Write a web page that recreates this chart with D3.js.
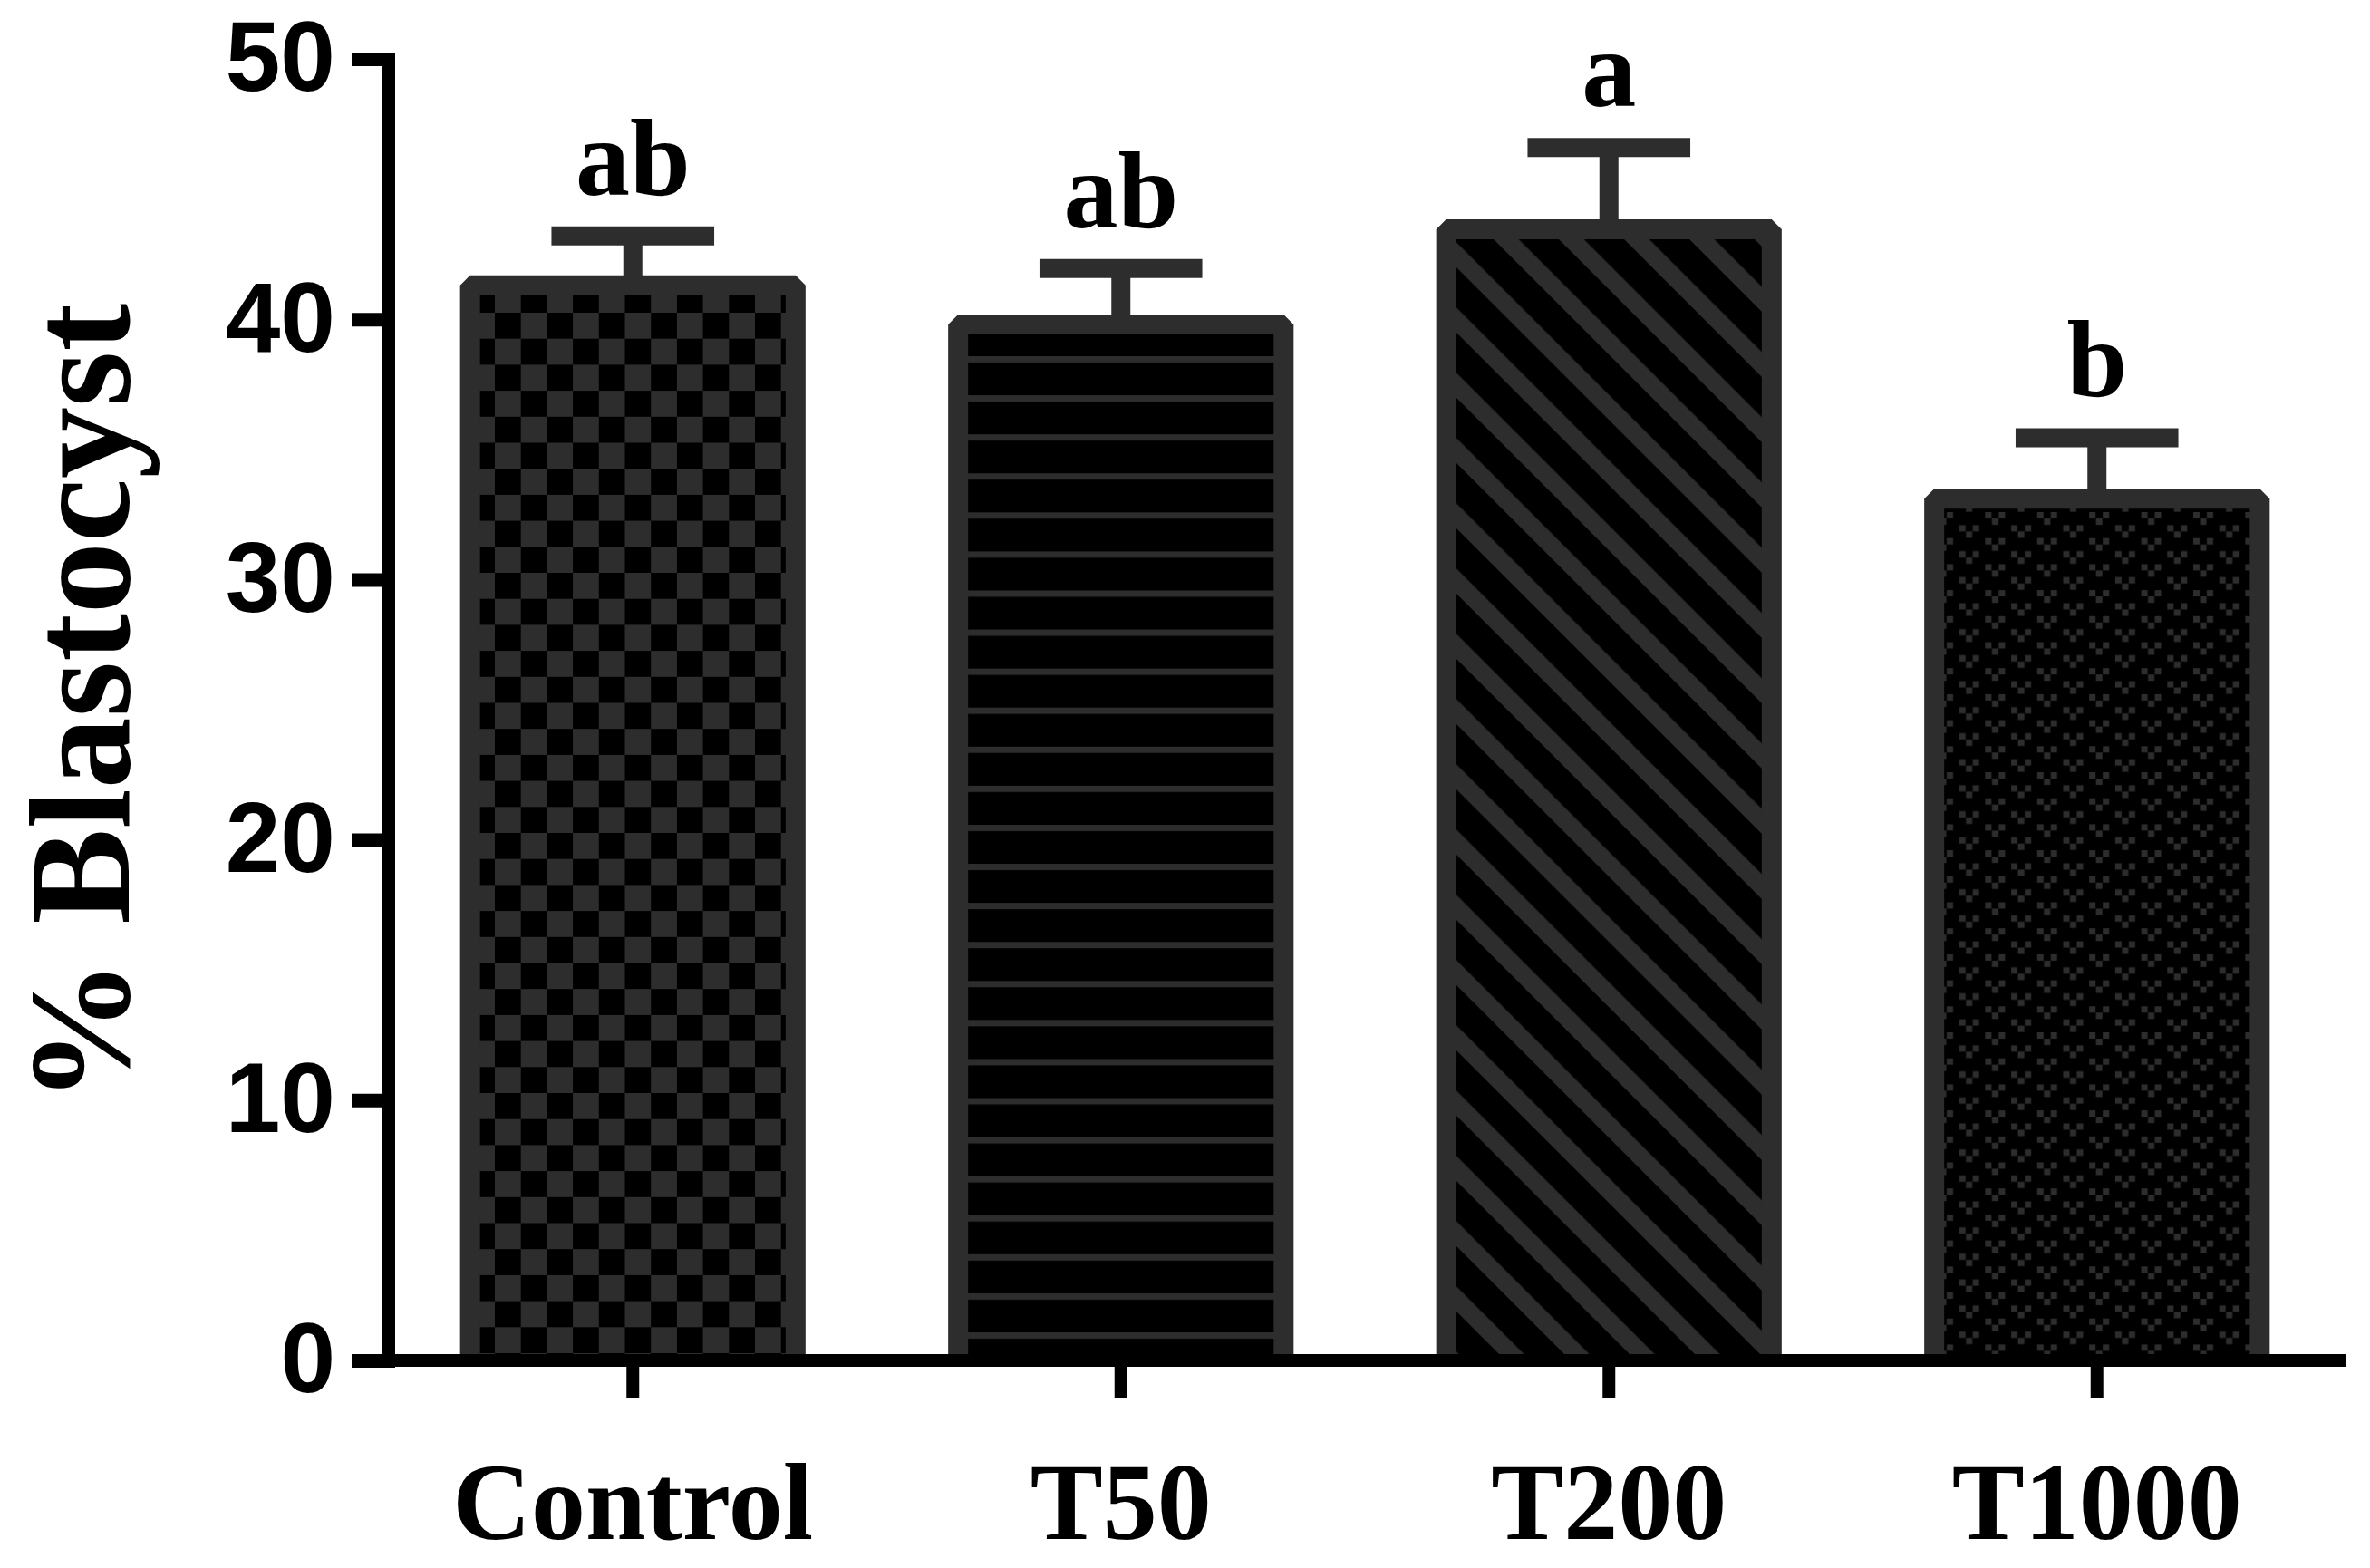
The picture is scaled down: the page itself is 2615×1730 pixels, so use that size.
<!DOCTYPE html>
<html>
<head>
<meta charset="utf-8">
<script src="https://cdn.jsdelivr.net/npm/d3@7/dist/d3.min.js"></script>
<style>
  html, body { margin: 0; padding: 0; background: #ffffff; }
  svg { display: block; }
</style>
</head>
<body>
<script>
// ---- data ----
const categories = ["Control", "T50", "T200", "T1000"];
const means      = [41.3, 39.8, 43.45, 33.1];
const sems       = [1.9, 2.15, 3.15, 2.35];
const letters    = ["ab", "ab", "a", "b"];
const yTicks     = [0, 10, 20, 30, 40, 50];
const patternIds = ["pat-checker", "pat-hlines", "pat-diag", "pat-vdots"];
const yTitle     = "% Blastocyst";

const W = 2615, H = 1730;
const DARK = "#2d2d2d";
const SERIF = "'Liberation Serif', 'Times New Roman', Times, serif";
const SANS  = "'Liberation Sans', Arial, Helvetica, sans-serif";

const svg = d3.select("body").append("svg")
  .attr("width", W).attr("height", H)
  .attr("viewBox", `0 0 ${W} ${H}`);
svg.append("rect").attr("width", W).attr("height", H).attr("fill", "#fff");

// ---- scales ----
const y = d3.scaleLinear().domain([0, 50]).range([1501, 65]);
const x = d3.scaleBand().domain(categories).range([429, 2583]).padding(0);
const barW = x.bandwidth() * 0.667;

// ---- patterns ----
const defs = svg.append("defs");
// checkerboard
{
  const c = 28.7;
  const p = defs.append("pattern").attr("id", "pat-checker")
    .attr("patternUnits", "userSpaceOnUse")
    .attr("x", 546).attr("y", 345).attr("width", 2 * c).attr("height", 2 * c);
  p.append("rect").attr("width", 2 * c).attr("height", 2 * c).attr("fill", "#000");
  p.append("rect").attr("x", c).attr("y", 0).attr("width", c).attr("height", c).attr("fill", DARK);
  p.append("rect").attr("x", 0).attr("y", c).attr("width", c).attr("height", c).attr("fill", DARK);
}
// horizontal lines
{
  const per = 43.08;
  const p = defs.append("pattern").attr("id", "pat-hlines")
    .attr("patternUnits", "userSpaceOnUse")
    .attr("x", 0).attr("y", 393).attr("width", 100).attr("height", per);
  p.append("rect").attr("width", 100).attr("height", per).attr("fill", "#000");
  p.append("rect").attr("y", 0).attr("width", 100).attr("height", 7).attr("fill", DARK);
}
// diagonal stripes "\" at 45deg
{
  const per = 72 / Math.SQRT2;
  const p = defs.append("pattern").attr("id", "pat-diag")
    .attr("patternUnits", "userSpaceOnUse")
    .attr("width", per).attr("height", per)
    .attr("patternTransform", "translate(1600,0) rotate(-45)");
  p.append("rect").attr("width", per).attr("height", per).attr("fill", "#000");
  p.append("rect").attr("x", 0).attr("width", 19.5).attr("height", per).attr("fill", DARK);
}
// staggered small "v" marks
{
  const cw = 57.4, ch = 28.7, s = 7;
  const p = defs.append("pattern").attr("id", "pat-vdots")
    .attr("patternUnits", "userSpaceOnUse")
    .attr("x", 2130).attr("y", 565).attr("width", cw).attr("height", ch);
  p.append("rect").attr("width", cw).attr("height", ch).attr("fill", "#000");
  const vAt = (ox, oy) => {
    p.append("rect").attr("x", ox).attr("y", oy).attr("width", s).attr("height", s).attr("fill", DARK);
    p.append("rect").attr("x", ox + 15).attr("y", oy).attr("width", s).attr("height", s).attr("fill", DARK);
    p.append("rect").attr("x", ox + 7.5).attr("y", oy + 7).attr("width", s).attr("height", s).attr("fill", DARK);
  };
  vAt(3, 0);
  vAt(3 + cw / 2, ch / 2);
}

const rows = categories.map((c, i) => ({
  cat: c, mean: means[i], sem: sems[i], letter: letters[i], pat: patternIds[i]
}));

// ---- error bars (stem + cap) ----
const eb = svg.append("g").attr("stroke", DARK).attr("stroke-width", 21);
eb.selectAll("line.stem").data(rows).join("line").attr("class", "stem")
  .attr("x1", d => x(d.cat) + x.bandwidth() / 2)
  .attr("x2", d => x(d.cat) + x.bandwidth() / 2)
  .attr("y1", d => y(d.mean))
  .attr("y2", d => y(d.mean + d.sem));
eb.selectAll("line.cap").data(rows).join("line").attr("class", "cap")
  .attr("x1", d => x(d.cat) + x.bandwidth() / 2 - barW / 4)
  .attr("x2", d => x(d.cat) + x.bandwidth() / 2 + barW / 4)
  .attr("y1", d => y(d.mean + d.sem))
  .attr("y2", d => y(d.mean + d.sem));

// ---- bars ----
svg.append("g").selectAll("path.bar").data(rows).join("path").attr("class", "bar")
  .attr("d", d => {
    const cx = x(d.cat) + x.bandwidth() / 2;
    const x0 = cx - barW / 2, x1 = cx + barW / 2;
    return `M${x0},${y(0)}V${y(d.mean)}H${x1}V${y(0)}`;
  })
  .attr("fill", d => `url(#${d.pat})`)
  .attr("stroke", DARK)
  .attr("stroke-width", 22)
  .attr("stroke-linejoin", "bevel");

// ---- significance letters ----
svg.append("g").selectAll("text.sig").data(rows).join("text").attr("class", "sig")
  .attr("x", d => x(d.cat) + x.bandwidth() / 2)
  .attr("y", d => y(d.mean + d.sem) - 10.5 - 35)
  .attr("text-anchor", "middle")
  .attr("font-family", SERIF).attr("font-weight", "bold").attr("font-size", 120)
  .attr("fill", "#000")
  .text(d => d.letter);

// ---- axes ----
const yAxis = svg.append("g").attr("transform", "translate(436,0)")
  .call(d3.axisLeft(y).tickValues(yTicks).tickSize(48).tickPadding(18).tickFormat(d3.format("d")));
yAxis.select(".domain").remove();
yAxis.selectAll(".tick line").attr("stroke", "#000").attr("stroke-width", 15);
yAxis.selectAll(".tick text")
  .attr("font-family", SANS).attr("font-weight", "bold").attr("font-size", 109).attr("fill", "#000");

const xAxis = svg.append("g").attr("transform", "translate(0,1494)")
  .call(d3.axisBottom(x).tickSize(48).tickPadding(71));
xAxis.select(".domain").remove();
xAxis.selectAll(".tick line").attr("stroke", "#000").attr("stroke-width", 14);
xAxis.selectAll(".tick text")
  .attr("font-family", SERIF).attr("font-weight", "bold").attr("font-size", 120).attr("fill", "#000");

// axis lines
svg.append("line").attr("x1", 429).attr("x2", 429).attr("y1", y(50) - 7).attr("y2", y(0) + 7)
  .attr("stroke", "#000").attr("stroke-width", 14);
svg.append("line").attr("x1", 422).attr("x2", 2588).attr("y1", y(0)).attr("y2", y(0))
  .attr("stroke", "#000").attr("stroke-width", 14);

// ---- y title ----
svg.append("text")
  .attr("transform", "translate(142,776) rotate(-90)")
  .attr("text-anchor", "middle")
  .attr("font-family", SERIF).attr("font-weight", "bold").attr("font-size", 158)
  .attr("fill", "#000")
  .text(yTitle);
</script>
</body>
</html>
